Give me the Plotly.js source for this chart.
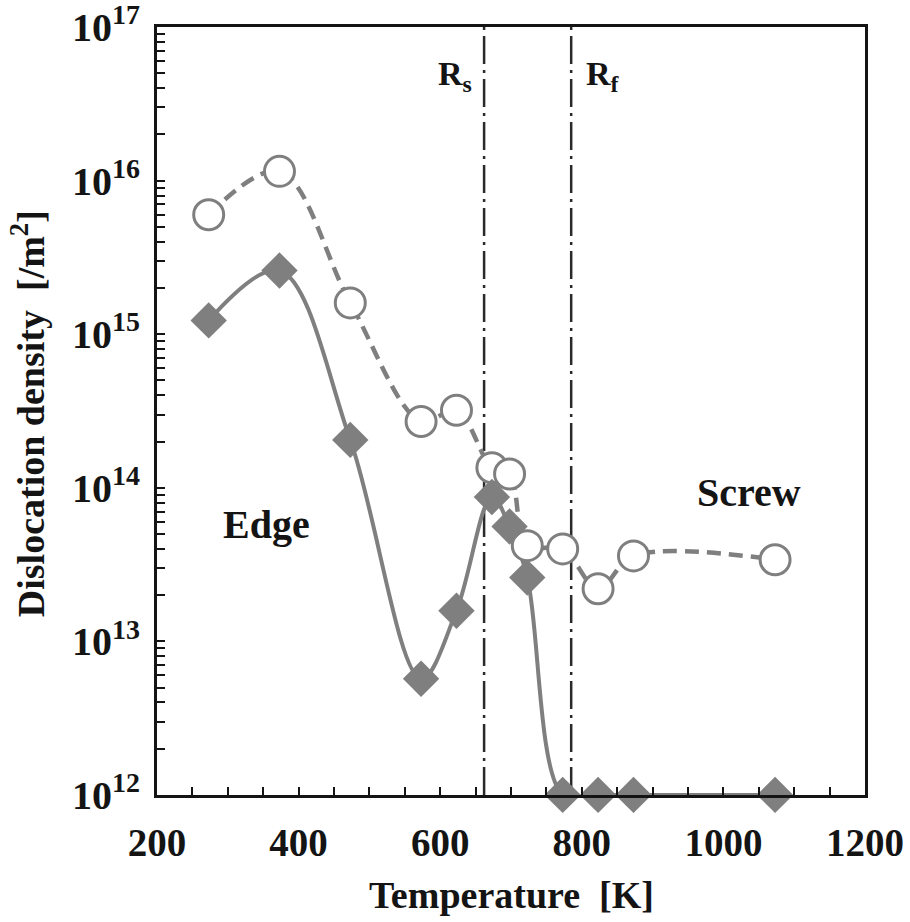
<!DOCTYPE html>
<html>
<head>
<meta charset="utf-8">
<script src="https://cdn.plot.ly/plotly-3.0.1.min.js"></script>
<style>
  html, body { margin: 0; padding: 0; background: #fff; }
  #chart { width: 910px; height: 922px; }
</style>
</head>
<body>
<div id="chart"></div>
<script>
// Annealing temperature [K]
const temperature = [273, 373, 473, 573, 623, 673, 698, 723, 773, 823, 873, 1073];
// Screw dislocation density [/m^2]
const screwDensity = [6.0e15, 1.15e16, 1.6e15, 2.7e14, 3.2e14, 1.35e14, 1.23e14, 4.2e13, 4.0e13, 2.2e13, 3.6e13, 3.4e13];
// Edge dislocation density [/m^2]
const edgeDensity = [1.23e15, 2.6e15, 2.05e14, 5.7e12, 1.58e13, 8.7e13, 5.6e13, 2.6e13, 1e12, 1e12, 1e12, 1e12];

// Recrystallisation start / finish temperatures [K]
const rsTemp = 662;
const rfTemp = 785;

// Axis ticks
const xLabelTicks = [200, 400, 600, 800, 1000, 1200];
const xMinorStep = 50;
const yDecades = [12, 13, 14, 15, 16, 17];

const GRAY = '#7f7f7f';
const INK = '#141414';
const SERIF = 'Liberation Serif, Times New Roman, serif';

// unlabelled x ticks every 50 K between the labelled ones
const xMinorVals = [];
for (let v = xLabelTicks[0]; v <= xLabelTicks[xLabelTicks.length - 1]; v += xMinorStep) {
  if (!xLabelTicks.includes(v)) xMinorVals.push(v);
}

// labelled y ticks at each decade, unlabelled ones at 2..9 x 10^n
const yTickVals = yDecades.map(d => Math.pow(10, d));
const yTickText = yDecades.map(d => '10<sup>' + d + '</sup>');
const yMinorVals = [];
yDecades.slice(0, -1).forEach(d => {
  for (let m = 2; m <= 9; m++) yMinorVals.push(m * Math.pow(10, d));
});

// small pad so values lying exactly on the decade limits stay inside the range
const PAD = 0.0008;

const traces = [
  {
    x: temperature, y: screwDensity, mode: 'lines', type: 'scatter',
    line: { color: GRAY, width: 4.5, dash: '14px,8px', shape: 'spline', smoothing: 1 },
    hoverinfo: 'skip'
  },
  {
    x: temperature, y: edgeDensity, mode: 'lines', type: 'scatter',
    line: { color: GRAY, width: 4, shape: 'spline', smoothing: 1 },
    hoverinfo: 'skip'
  },
  {
    x: temperature, y: screwDensity, mode: 'markers', type: 'scatter', name: 'Screw',
    cliponaxis: false,
    marker: { symbol: 'circle', size: 30, color: '#ffffff', line: { color: GRAY, width: 3 } }
  },
  {
    x: temperature, y: edgeDensity, mode: 'markers', type: 'scatter', name: 'Edge',
    cliponaxis: false,
    marker: { symbol: 'diamond', size: 28, color: GRAY, line: { width: 0 } }
  }
];

const boundaryLine = (xv) => ({
  type: 'line', xref: 'x', yref: 'paper', x0: xv, x1: xv, y0: 0, y1: 1,
  layer: 'below',
  line: { color: '#2a2a2a', width: 2.5, dash: '28px,6px,3px,6px' }
});

const layout = {
  width: 910,
  height: 922,
  margin: { l: 157, r: 45, t: 27, b: 127 },
  paper_bgcolor: '#ffffff',
  plot_bgcolor: '#ffffff',
  showlegend: false,
  font: { family: SERIF, color: INK },
  xaxis: {
    range: [200, 1200],
    tickmode: 'array', tickvals: xLabelTicks, ticktext: xLabelTicks.map(String),
    ticks: 'inside', ticklen: 8, tickwidth: 2, tickcolor: INK,
    minor: { tickmode: 'array', tickvals: xMinorVals, ticks: 'inside', ticklen: 8, tickwidth: 2, tickcolor: INK, showgrid: false },
    showline: true, linewidth: 3, linecolor: INK, mirror: true,
    showgrid: false, zeroline: false,
    tickfont: { family: SERIF, size: 39, weight: 700, color: INK },
    ticklabelstandoff: 11,
    ticklabeloverflow: 'allow'
  },
  yaxis: {
    type: 'log', range: [yDecades[0] - PAD, yDecades[yDecades.length - 1] + PAD],
    tickmode: 'array', tickvals: yTickVals, ticktext: yTickText,
    ticks: 'inside', ticklen: 8, tickwidth: 2, tickcolor: INK,
    minor: { tickmode: 'array', tickvals: yMinorVals, ticks: 'inside', ticklen: 8, tickwidth: 2, tickcolor: INK, showgrid: false },
    showline: true, linewidth: 3, linecolor: INK, mirror: true,
    showgrid: false, zeroline: false,
    tickfont: { family: SERIF, size: 40, weight: 700, color: INK },
    ticklabelstandoff: 6,
    ticklabeloverflow: 'allow'
  },
  shapes: [boundaryLine(rsTemp), boundaryLine(rfTemp)],
  annotations: [
    {
      text: 'Temperature\u00A0\u00A0[K]', xref: 'paper', yref: 'paper',
      x: 0.501, y: -0.13, xanchor: 'center', yanchor: 'middle', showarrow: false,
      font: { family: SERIF, size: 38, weight: 700, color: INK }
    },
    {
      text: 'Dislocation density\u00A0\u00A0[/m<sup>2</sup>]', xref: 'paper', yref: 'paper',
      x: -0.182, y: 0.496, xanchor: 'center', yanchor: 'middle', textangle: -90, showarrow: false,
      font: { family: SERIF, size: 38, weight: 700, color: INK }
    },
    {
      text: 'R<sub>s</sub>', xref: 'x', yref: 'paper', x: rsTemp, y: 0.936,
      xanchor: 'right', yanchor: 'middle', xshift: -10, showarrow: false,
      font: { family: SERIF, size: 34, weight: 700, color: INK }
    },
    {
      text: 'R<sub>f</sub>', xref: 'x', yref: 'paper', x: rfTemp, y: 0.936,
      xanchor: 'left', yanchor: 'middle', xshift: 13, showarrow: false,
      font: { family: SERIF, size: 34, weight: 700, color: INK }
    },
    {
      text: 'Edge', xref: 'x', yref: 'y', x: 354, y: 13.76,
      xanchor: 'center', yanchor: 'middle', showarrow: false,
      font: { family: SERIF, size: 40, weight: 700, color: INK }
    },
    {
      text: 'Screw', xref: 'x', yref: 'y', x: 1036, y: 13.97,
      xanchor: 'center', yanchor: 'middle', showarrow: false,
      font: { family: SERIF, size: 40, weight: 700, color: INK }
    }
  ]
};

Plotly.newPlot('chart', traces, layout, { displayModeBar: false, staticPlot: true });
</script>
</body>
</html>
